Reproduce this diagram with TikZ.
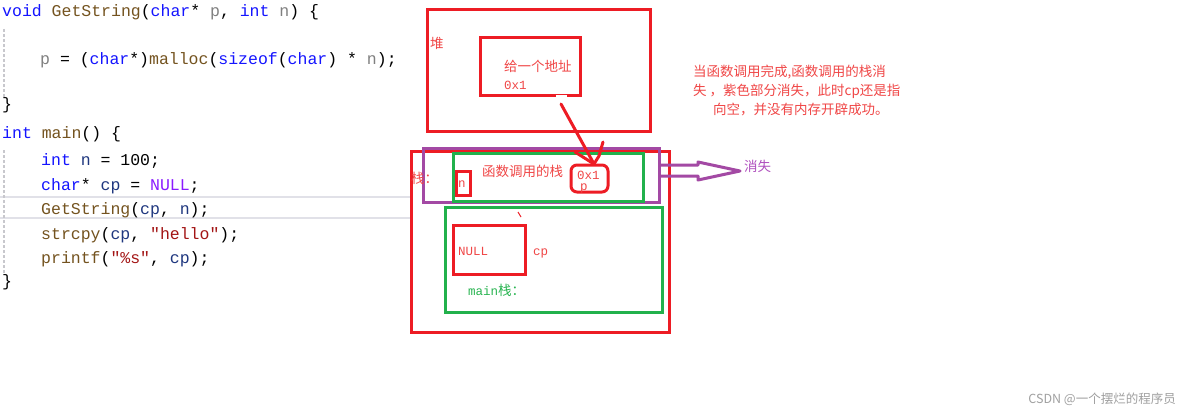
\documentclass[tikz,border=0pt]{standalone}
\usepackage{fontspec}
\newfontfamily\codef{Liberation Mono}
\newfontfamily\cjk{Noto Sans CJK SC}
\definecolor{kwblue}{RGB}{20,20,255}
\definecolor{fnbrown}{RGB}{116,83,31}
\definecolor{pagrey}{RGB}{128,128,128}
\definecolor{lvblue}{RGB}{31,55,127}
\definecolor{mcpurple}{RGB}{138,27,255}
\definecolor{strred}{RGB}{163,21,21}
\definecolor{boxred}{RGB}{237,28,36}
\definecolor{txtred}{RGB}{240,70,70}
\definecolor{boxgreen}{RGB}{34,177,76}
\definecolor{txtgreen}{RGB}{40,180,80}
\definecolor{boxpurple}{RGB}{163,73,164}
\definecolor{txtpurple}{RGB}{176,80,190}
\definecolor{guide}{RGB}{200,200,205}
\definecolor{hiline}{RGB}{225,225,232}
\definecolor{wmgrey}{RGB}{160,160,160}
\newcommand{\ckw}[1]{\textcolor{kwblue}{#1}}
\newcommand{\cfn}[1]{\textcolor{fnbrown}{#1}}
\newcommand{\cpa}[1]{\textcolor{pagrey}{#1}}
\newcommand{\clv}[1]{\textcolor{lvblue}{#1}}
\newcommand{\cmc}[1]{\textcolor{mcpurple}{#1}}
\newcommand{\cst}[1]{\textcolor{strred}{#1}}
\begin{document}
\begin{tikzpicture}[x=1pt,y=-1pt,
  codeline/.style={anchor=base west,inner sep=0pt,font=\fontsize{16.5}{18}\selectfont\codef},
  redbox/.style={draw=boxred,line width=3pt,inner sep=0pt},
  greenbox/.style={draw=boxgreen,line width=3pt,inner sep=0pt},
  purplebox/.style={draw=boxpurple,line width=3pt,inner sep=0pt},
  cjklabel/.style={inner sep=0pt,font=\fontsize{13.5}{16}\selectfont\cjk,text=txtred},
  monolabel/.style={inner sep=0pt,font=\fontsize{12.5}{14}\selectfont\codef,text=txtred},
  redline/.style={draw=boxred,line width=3pt,line cap=round,line join=round}
]
\fill[white] (0,0) rectangle (1184,412);
\useasboundingbox (0,0) rectangle (1184,412);

% editor decorations
\draw[hiline,line width=2pt] (0,197) -- (410,197);
\draw[hiline,line width=2pt] (0,218) -- (410,218);
\draw[guide,line width=1.2pt,dash pattern=on 3pt off 2pt] (4,29) -- (4,98);
\draw[guide,line width=1.2pt,dash pattern=on 3pt off 2pt] (4,150) -- (4,274);

% code
\node[codeline] (c1) at (2,17) {\ckw{void} \cfn{GetString}(\ckw{char}* \cpa{p}, \ckw{int} \cpa{n}) \{};
\node[codeline] (c2) at (40,65) {\cpa{p} = (\ckw{char}*)\cfn{malloc}(\ckw{sizeof}(\ckw{char}) * \cpa{n});};
\node[codeline] (c3) at (2,110) {\}};
\node[codeline] (c4) at (2,138) {\ckw{int} \cfn{main}() \{};
\node[codeline] (c5) at (41,165) {\ckw{int} \clv{n} = 100;};
\node[codeline] (c6) at (41,190) {\ckw{char}* \clv{cp} = \cmc{NULL};};
\node[codeline] (c7) at (41,214) {\cfn{GetString}(\clv{cp}, \clv{n});};
\node[codeline] (c8) at (41,239) {\cfn{strcpy}(\clv{cp}, \cst{"hello"});};
\node[codeline] (c9) at (41,263) {\cfn{printf}(\cst{"\%s"}, \clv{cp});};
\node[codeline] (c10) at (2,286) {\}};

% heap
\node[redbox,minimum width=223pt,minimum height=121pt] (heap) at (538.5,70.5) {};
\node[redbox,minimum width=100pt,minimum height=58pt] (addr) at (530,67) {};
\draw[white,line width=3pt] (556,97) -- (567,97);
\node[cjklabel,anchor=west] (heaplbl) at (430,43) {堆};
\node[cjklabel,anchor=west] (addrtxt) at (504,66) {给一个地址};
\node[monolabel,anchor=west] (addrval) at (504,85) {0x1};

% stack
\node[redbox,minimum width=258pt,minimum height=181pt] (stack) at (540,241.5) {};
\node[purplebox,minimum width=236pt,minimum height=54pt] (frame) at (541,175) {};
\node[greenbox,minimum width=190pt,minimum height=48pt] (fstack) at (548,177) {};
\node[cjklabel,anchor=west] (stacklbl) at (411,178) {栈：};
\node[cjklabel,anchor=west] (fstacklbl) at (482,171) {函数调用的栈};
\node[redbox,minimum width=14pt,minimum height=24pt] (nbox) at (463,183) {};
\node[monolabel,anchor=west] (ntxt) at (458,184) {n};
\node[redbox,rounded corners=6pt,minimum width=37pt,minimum height=27pt] (pbox) at (589.5,178.5) {};
\node[monolabel,anchor=west] (pval) at (577,175.5) {0x1};
\node[monolabel,anchor=west] (pname) at (580,188) {p};

\node[greenbox,minimum width=217pt,minimum height=105pt] (mstack) at (553.5,259.5) {};
\node[redbox,minimum width=72pt,minimum height=49pt] (cpbox) at (489,249.5) {};
\node[monolabel,anchor=west] (nulltxt) at (458,251) {NULL};
\node[monolabel,anchor=west] (cptxt) at (533,253) {cp};
\node[inner sep=0pt,anchor=west,text=txtgreen] (mlbl) at (468,290) {\fontsize{12.5}{14}\selectfont\codef main\cjk\fontsize{13.5}{16}\selectfont 栈：};
\draw[boxred,line width=1pt] (518,212) -- (521,217);

% arrow heap -> p
\coordinate (a1) at (561,104);
\coordinate (a2) at (594,164);
\coordinate (h1) at (575,152);
\coordinate (h2) at (603,142);
\coordinate (h3) at (599,156);
\draw[redline] (a1) -- (a2);
\draw[redline] (h1) -- (a2);
\draw[redline] (h2) -- (h3) -- (a2);

% vanish arrow
\coordinate (v0) at (659,165);
\coordinate (v6) at (659,176);
\draw[boxpurple,line width=3pt,line join=round] (v0) -- (698,165) -- (698,162) -- (740,171) -- (698,180) -- (698,176) -- (v6);
\node[inner sep=0pt,anchor=west,font=\fontsize{13.5}{16}\selectfont\cjk,text=txtpurple] (vanish) at (744,166) {消失};

% explanation
\node[cjklabel,anchor=west] (e1) at (693,72) {当函数调用完成,函数调用的栈消};
\node[cjklabel,anchor=west] (e2) at (693,91) {失\ ，紫色部分消失，此时cp还是指};
\node[cjklabel,anchor=west] (e3) at (713,110) {向空，并没有内存开辟成功。};

% watermark
\node[inner sep=0pt,anchor=east,font=\fontsize{12.5}{15}\selectfont\cjk,text=wmgrey] (wm) at (1176,399) {CSDN @一个摆烂的程序员};
\end{tikzpicture}
\end{document}
